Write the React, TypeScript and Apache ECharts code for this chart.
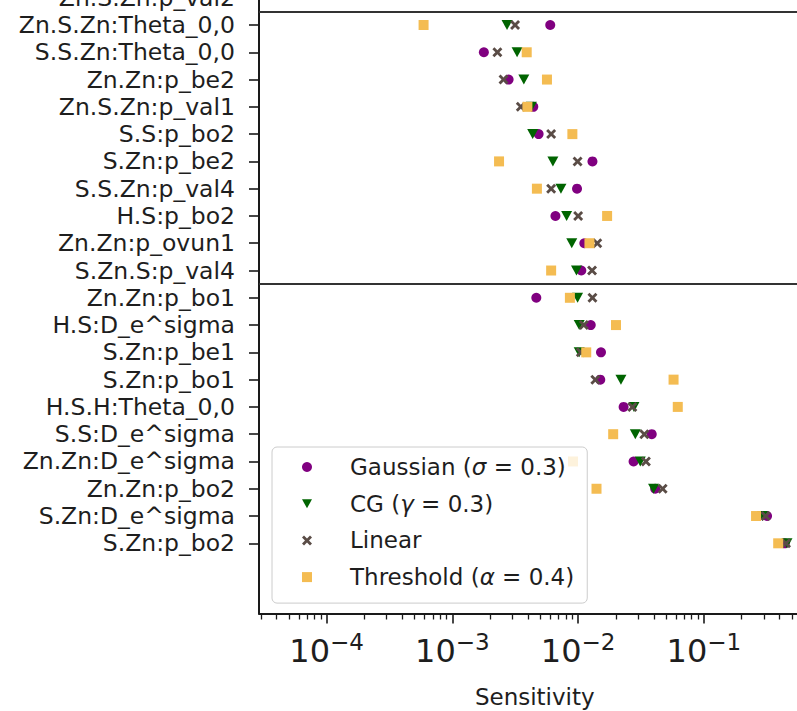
import React, { useEffect, useRef } from "react";
import * as echarts from "echarts";

// Parameter labels (top to bottom); the first one is cut off at the top of the picture
const categories = [
  "Zn.S.Zn:p_val2",
  "Zn.S.Zn:Theta_0,0",
  "S.S.Zn:Theta_0,0",
  "Zn.Zn:p_be2",
  "Zn.S.Zn:p_val1",
  "S.S:p_bo2",
  "S.Zn:p_be2",
  "S.S.Zn:p_val4",
  "H.S:p_bo2",
  "Zn.Zn:p_ovun1",
  "S.Zn.S:p_val4",
  "Zn.Zn:p_bo1",
  "H.S:D_e^sigma",
  "S.Zn:p_be1",
  "S.Zn:p_bo1",
  "H.S.H:Theta_0,0",
  "S.S:D_e^sigma",
  "Zn.Zn:D_e^sigma",
  "Zn.Zn:p_bo2",
  "S.Zn:D_e^sigma",
  "S.Zn:p_bo2",
];

// Sensitivity values per category (null = not visible in the picture)
const gaussian = [null, 6.0e-3, 1.78e-3, 2.8e-3, 4.4e-3, 4.85e-3, 1.3e-2, 9.8e-3, 6.6e-3, 1.12e-2, 1.06e-2,
  4.65e-3, 1.26e-2, 1.52e-2, 1.5e-2, 2.3e-2, 3.85e-2, 2.76e-2, 4.1e-2, 3.18e-1, 4.4e-1];
const cg = [null, 2.72e-3, 3.27e-3, 3.7e-3, 4.25e-3, 4.35e-3, 6.3e-3, 7.3e-3, 8.1e-3, 8.9e-3, 9.7e-3,
  9.9e-3, 1.02e-2, 1.02e-2, 2.19e-2, 2.78e-2, 2.85e-2, 3.12e-2, 3.98e-2, 2.92e-1, 4.58e-1];
const linear = [null, 3.15e-3, 2.28e-3, 2.55e-3, 3.5e-3, 6.1e-3, 9.9e-3, 6.1e-3, 1.0e-2, 1.42e-2, 1.29e-2,
  1.3e-2, 1.11e-2, 1.05e-2, 1.37e-2, 2.7e-2, 3.36e-2, 3.46e-2, 4.7e-2, 3.1e-1, 4.5e-1];
const threshold = [null, 5.9e-4, 3.9e-3, 5.65e-3, 3.95e-3, 9.0e-3, 2.35e-3, 4.7e-3, 1.7e-2, 1.23e-2, 6.1e-3,
  8.6e-3, 2.0e-2, 1.16e-2, 5.74e-2, 6.2e-2, 1.9e-2, 9.1e-3, 1.4e-2, 2.6e-1, 3.9e-1];

const seriesNames = ["Gaussian (σ = 0.3)", "CG (γ = 0.3)", "Linear", "Threshold (α = 0.4)"];

// Log-axis decades that carry labels, and minor multipliers
const xTickExponents = [-4, -3, -2, -1];
const minorMultipliers = [2, 3, 4, 5, 6, 7, 8, 9];

// Boundaries between parameter groups (drawn as horizontal lines)
const groupBoundaries = [0.5, 10.5];

const FONT = "DejaVu Sans";
const TEXT = "#1e1e1e";
const LINE = "#1a1a1a";
const X_MIN = -4.538;
const X_MAX = -0.152;
const Y_MIN = -1;
const Y_MAX = 22.573;

const TRI_DOWN = "path://M0,0 L10,0 L5,9 Z";
const X_MARK = "path://M2,0 L5,3 L8,0 L10,2 L7,5 L10,8 L8,10 L5,7 L2,10 L0,8 L3,5 L0,2 Z";

const toPoints = (arr: (number | null)[]) =>
  arr
    .map((v, i) => (v == null ? null : [Math.log10(v), i]))
    .filter((p) => p !== null) as number[][];

export default function App() {
  const ref = useRef<HTMLDivElement>(null);

  useEffect(() => {
    if (!ref.current) return;
    const chart = echarts.init(ref.current, null, { renderer: "svg" });

    const minorTicks: number[] = [];
    for (let e = -5; e <= 0; e++) {
      for (const k of minorMultipliers) {
        const v = e + Math.log10(k);
        if (v >= X_MIN && v <= X_MAX) minorTicks.push(v);
      }
    }
    const catIdx = categories.map((_, i) => i);

    const gridLayout = {
      left: 259,
      right: -13.5,
      top: -29.56,
      bottom: 97.5,
      containLabel: false,
      outerBoundsMode: "none",
    };

    const option: any = {
      animation: false,
      backgroundColor: "#ffffff",
      grid: [{ ...gridLayout }, { ...gridLayout }],
      xAxis: [
        {
          type: "value",
          gridIndex: 0,
          min: X_MIN,
          max: X_MAX,
          position: "bottom",
          axisLine: { show: true, onZero: false, lineStyle: { color: LINE, width: 2 } },
          axisTick: {
            show: true,
            customValues: xTickExponents,
            length: 10,
            lineStyle: { color: LINE, width: 1.6 },
          },
          axisLabel: {
            customValues: xTickExponents,
            margin: 17,
            fontFamily: FONT,
            color: TEXT,
            formatter: (v: number) => `{b|10}{s|−${Math.abs(Math.round(v))}}`,
            rich: {
              b: { fontSize: 32, fontFamily: FONT, color: TEXT, lineHeight: 36, verticalAlign: "bottom" },
              s: { fontSize: 23, fontFamily: FONT, color: TEXT, lineHeight: 24, verticalAlign: "top" },
            },
          },
          splitLine: { show: false },
          name: "Sensitivity",
          nameLocation: "middle",
          nameGap: 72,
          nameTextStyle: { fontFamily: FONT, fontSize: 23, color: TEXT },
        },
        {
          type: "value",
          gridIndex: 1,
          min: X_MIN,
          max: X_MAX,
          position: "bottom",
          axisLine: { show: false, onZero: false },
          axisTick: {
            show: true,
            customValues: minorTicks,
            length: 6,
            lineStyle: { color: LINE, width: 1.3 },
          },
          axisLabel: { show: false },
          splitLine: { show: false },
        },
      ],
      yAxis: [
        {
          type: "value",
          gridIndex: 0,
          inverse: true,
          min: Y_MIN,
          max: Y_MAX,
          axisLine: { show: true, onZero: false, lineStyle: { color: LINE, width: 2 } },
          axisTick: {
            show: true,
            customValues: catIdx,
            length: 10,
            lineStyle: { color: LINE, width: 1.6 },
          },
          axisLabel: {
            customValues: catIdx,
            margin: 24,
            fontFamily: FONT,
            fontSize: 23.5,
            color: TEXT,
            formatter: (v: number) => categories[Math.round(v)] ?? "",
          },
          splitLine: { show: false },
        },
        {
          type: "value",
          gridIndex: 1,
          inverse: true,
          min: Y_MIN,
          max: Y_MAX,
          show: false,
          axisLine: { onZero: false },
        },
      ],
      legend: {
        orient: "vertical",
        left: 272,
        top: 447,
        padding: [7, 13, 13, 30],
        itemWidth: 10,
        itemHeight: 10,
        itemGap: 10.7,
        backgroundColor: "rgba(255,255,255,0.8)",
        borderColor: "#cccccc",
        borderWidth: 1,
        borderRadius: 5,
        data: [
          { name: seriesNames[0], icon: "circle" },
          { name: seriesNames[1], icon: TRI_DOWN },
          { name: seriesNames[2], icon: X_MARK },
          { name: seriesNames[3], icon: "rect" },
        ],
        textStyle: {
          fontFamily: FONT,
          fontSize: 23,
          color: TEXT,
          lineHeight: 26,
          rich: {
            sp: { width: 33 },
            it: { fontStyle: "italic" },
          },
        },
        formatter: (name: string) => "{sp| }" + name.replace(/([σγα])/g, "{it|$1}"),
      },
      series: [
        {
          name: seriesNames[0],
          type: "scatter",
          xAxisIndex: 0,
          yAxisIndex: 0,
          symbol: "circle",
          symbolSize: 10,
          itemStyle: { color: "#800080", opacity: 1 },
          data: toPoints(gaussian),
          markLine: {
            silent: true,
            symbol: ["none", "none"],
            label: { show: false },
            lineStyle: { color: "#333333", width: 2, type: "solid" },
            data: groupBoundaries.map((y) => ({ yAxis: y })),
          },
        },
        {
          name: seriesNames[1],
          type: "scatter",
          xAxisIndex: 0,
          yAxisIndex: 0,
          symbol: TRI_DOWN,
          symbolSize: [11, 10],
          itemStyle: { color: "#006400", opacity: 1 },
          data: toPoints(cg),
        },
        {
          name: seriesNames[2],
          type: "scatter",
          xAxisIndex: 0,
          yAxisIndex: 0,
          symbol: X_MARK,
          symbolSize: 10,
          itemStyle: { color: "#5a4c46", opacity: 1 },
          data: toPoints(linear),
        },
        {
          name: seriesNames[3],
          type: "scatter",
          xAxisIndex: 0,
          yAxisIndex: 0,
          symbol: "rect",
          symbolSize: 10,
          itemStyle: { color: "#f4bc52", opacity: 1 },
          data: toPoints(threshold),
        },
      ],
    };

    chart.setOption(option);
    return () => chart.dispose();
  }, []);

  return (
    <div
      ref={ref}
      style={{ position: "absolute", left: 0, top: 0, width: 797, height: 711, background: "#fff" }}
    />
  );
}
